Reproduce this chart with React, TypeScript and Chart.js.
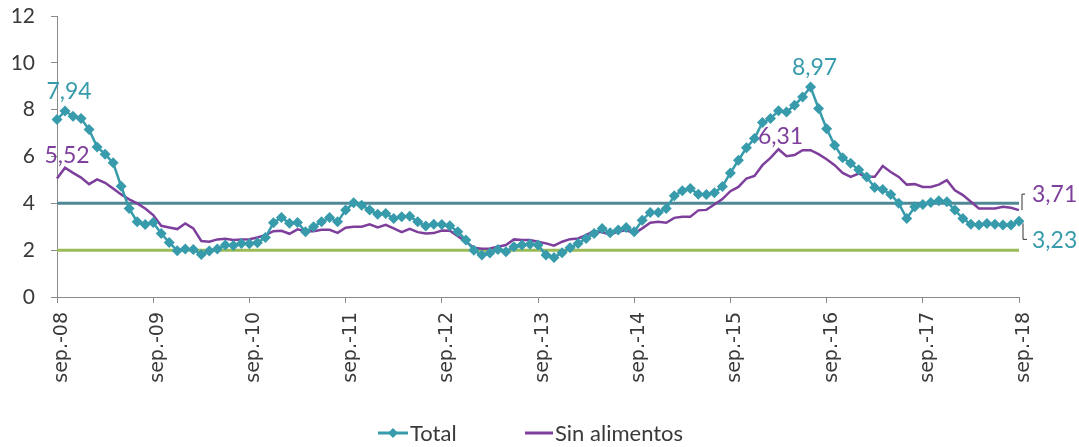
import React, { useEffect, useRef } from 'react';
import { Chart, registerables } from 'chart.js';

Chart.register(...registerables);

// ---- Data ----
const monthNames = ['sep.', 'oct.', 'nov.', 'dic.', 'ene.', 'feb.', 'mar.', 'abr.', 'may.', 'jun.', 'jul.', 'ago.'];
const startYear = 8;
const monthCount = 121; // sep-08 .. sep-18
const categories: string[] = [];
for (let i = 0; i < monthCount; i++) {
  const yr = startYear + Math.floor((i + 8) / 12);
  categories.push(`${monthNames[i % 12]}-${String(yr).padStart(2, '0')}`);
}

const yTicks = [0, 2, 4, 6, 8, 10, 12];

const totalValues = [
  7.58, 7.94, 7.72, 7.62, 7.15, 6.41, 6.10, 5.73, 4.73, 3.78, 3.21, 3.10,
  3.18, 2.71, 2.33, 1.98, 2.05, 2.03, 1.82, 1.96, 2.05, 2.22, 2.20, 2.29,
  2.27, 2.32, 2.54, 3.17, 3.40, 3.15, 3.18, 2.79, 3.00, 3.21, 3.40, 3.21,
  3.71, 4.02, 3.92, 3.71, 3.53, 3.57, 3.35, 3.43, 3.45, 3.21, 3.03, 3.11,
  3.10, 3.04, 2.79, 2.43, 2.00, 1.79, 1.88, 2.03, 1.93, 2.15, 2.22, 2.25,
  2.22, 1.79, 1.69, 1.89, 2.10, 2.29, 2.50, 2.71, 2.93, 2.74, 2.86, 2.97,
  2.79, 3.28, 3.61, 3.61, 3.78, 4.32, 4.54, 4.63, 4.39, 4.38, 4.45, 4.72,
  5.30, 5.84, 6.37, 6.77, 7.45, 7.62, 7.95, 7.90, 8.19, 8.54, 8.97, 8.05,
  7.19, 6.48, 5.95, 5.71, 5.43, 5.12, 4.68, 4.59, 4.38, 4.00, 3.35, 3.85,
  3.95, 4.04, 4.11, 4.07, 3.71, 3.35, 3.11, 3.07, 3.14, 3.11, 3.07, 3.07,
  3.23,
];

const sinAlimentosValues = [
  5.06, 5.52, 5.30, 5.10, 4.82, 5.02, 4.88, 4.63, 4.38, 4.17, 4.00, 3.78,
  3.50, 3.04, 2.97, 2.90, 3.14, 2.93, 2.39, 2.36, 2.46, 2.49, 2.43, 2.46,
  2.47, 2.54, 2.64, 2.81, 2.83, 2.70, 2.89, 2.81, 2.81, 2.87, 2.87, 2.74,
  2.96, 3.00, 3.00, 3.10, 2.97, 3.08, 2.93, 2.77, 2.91, 2.77, 2.71, 2.73,
  2.84, 2.83, 2.60, 2.36, 2.10, 2.06, 2.07, 2.15, 2.22, 2.46, 2.43, 2.43,
  2.36, 2.29, 2.19, 2.36, 2.47, 2.50, 2.64, 2.83, 2.76, 2.67, 2.79, 2.86,
  2.71, 2.93, 3.17, 3.21, 3.17, 3.38, 3.43, 3.43, 3.70, 3.72, 3.95, 4.18,
  4.52, 4.70, 5.06, 5.17, 5.63, 5.94, 6.31, 6.01, 6.06, 6.27, 6.27, 6.10,
  5.88, 5.63, 5.30, 5.13, 5.27, 5.13, 5.13, 5.59, 5.34, 5.13, 4.80, 4.82,
  4.70, 4.70, 4.80, 4.99, 4.56, 4.35, 4.07, 3.78, 3.78, 3.78, 3.85, 3.81,
  3.71,
];

const targetValues = [4, 2];
const totalLabelIdx = [1, 94];
const sinLabelIdx = [1, 90];

// ---- Styles ----
const TEAL = '#379bac';
const PURPLE = '#7e3f9c';
const TARGET_COLORS = ['#4f8794', '#9bbb59'];
const AXIS = '#8a8a8a';
const TEXT = '#3a3a3a';
const LABEL_FONT = '23px Lato, "Open Sans", sans-serif';

const fmt = (v: number) => v.toFixed(2).replace('.', ',');

const targetLinesPlugin = {
  id: 'targetLines',
  beforeDatasetsDraw(chart: any) {
    const { ctx, chartArea, scales } = chart;
    const meta = chart.getDatasetMeta(0);
    const xEnd = meta.data[meta.data.length - 1].x;
    targetValues.forEach((t, k) => {
      const y = scales.y.getPixelForValue(t);
      ctx.save();
      ctx.strokeStyle = TARGET_COLORS[k];
      ctx.lineWidth = 3;
      ctx.beginPath();
      ctx.moveTo(chartArea.left, y);
      ctx.lineTo(xEnd, y);
      ctx.stroke();
      ctx.restore();
    });
  },
};

const labelsPlugin = {
  id: 'valueLabels',
  afterDatasetsDraw(chart: any) {
    const { ctx } = chart;
    const mTotal = chart.getDatasetMeta(0);
    const mSin = chart.getDatasetMeta(1);
    ctx.save();
    ctx.font = LABEL_FONT;
    ctx.textAlign = 'center';
    ctx.textBaseline = 'alphabetic';
    ctx.fillStyle = TEAL;
    totalLabelIdx.forEach((i) => {
      const p = mTotal.data[i];
      ctx.fillText(fmt(totalValues[i]), p.x + 4, p.y - 12);
    });
    ctx.fillStyle = PURPLE;
    sinLabelIdx.forEach((i) => {
      const p = mSin.data[i];
      ctx.fillText(fmt(sinAlimentosValues[i]), p.x + 2, p.y - 5);
    });
    // end labels with brackets
    const last = totalValues.length - 1;
    const pS = mSin.data[last];
    const pT = mTotal.data[last];
    ctx.strokeStyle = '#333';
    ctx.lineWidth = 1;
    ctx.beginPath();
    ctx.moveTo(pS.x + 3, pS.y);
    ctx.lineTo(pS.x + 3, pS.y - 16);
    ctx.lineTo(pS.x + 6, pS.y - 16);
    ctx.moveTo(pT.x + 4, pT.y + 2);
    ctx.lineTo(pT.x + 4, pT.y + 18);
    ctx.lineTo(pT.x + 8, pT.y + 18);
    ctx.stroke();
    ctx.textAlign = 'left';
    ctx.fillStyle = PURPLE;
    ctx.fillText(fmt(sinAlimentosValues[last]), pS.x + 13, pS.y - 8);
    ctx.fillStyle = TEAL;
    ctx.fillText(fmt(totalValues[last]), pT.x + 13, pT.y + 27);
    ctx.restore();
  },
};

const legendPlugin = {
  id: 'customLegend',
  afterDraw(chart: any) {
    const { ctx } = chart;
    const y = 433;
    ctx.save();
    ctx.font = '22px Lato, "Open Sans", sans-serif';
    ctx.textBaseline = 'middle';
    ctx.textAlign = 'left';
    // Total
    ctx.strokeStyle = TEAL;
    ctx.lineWidth = 3;
    ctx.beginPath();
    ctx.moveTo(378, y);
    ctx.lineTo(408, y);
    ctx.stroke();
    ctx.fillStyle = TEAL;
    ctx.beginPath();
    ctx.moveTo(393, y - 5);
    ctx.lineTo(398, y);
    ctx.lineTo(393, y + 5);
    ctx.lineTo(388, y);
    ctx.closePath();
    ctx.fill();
    ctx.fillStyle = TEXT;
    ctx.fillText(chart.data.datasets[0].label, 410, y + 1);
    // Sin alimentos
    ctx.strokeStyle = PURPLE;
    ctx.beginPath();
    ctx.moveTo(525, y);
    ctx.lineTo(553, y);
    ctx.stroke();
    ctx.fillStyle = TEXT;
    ctx.fillText(chart.data.datasets[1].label, 555, y + 1);
    ctx.restore();
  },
};

export default function App() {
  const ref = useRef<HTMLCanvasElement | null>(null);
  useEffect(() => {
    document.body.style.margin = '0';
    const canvas = ref.current;
    if (!canvas) return;
    const chart = new Chart(canvas, {
      type: 'line',
      data: {
        labels: categories,
        datasets: [
          {
            label: 'Total',
            data: totalValues,
            borderColor: TEAL,
            backgroundColor: TEAL,
            borderWidth: 2.5,
            pointStyle: 'rectRot',
            pointRadius: 5.5,
            pointBackgroundColor: TEAL,
            pointBorderWidth: 0,
            tension: 0,
          },
          {
            label: 'Sin alimentos',
            data: sinAlimentosValues,
            borderColor: PURPLE,
            backgroundColor: PURPLE,
            borderWidth: 2.5,
            pointRadius: 0,
            tension: 0,
          },
        ],
      },
      options: {
        responsive: false,
        animation: false,
        devicePixelRatio: 1,
        layout: { padding: { left: 0, right: 60, top: 16, bottom: 40 } },
        plugins: {
          legend: { display: false },
          tooltip: { enabled: false },
        },
        scales: {
          x: {
            type: 'category',
            offset: false,
            afterBuildTicks: (axis: any) => {
              axis.ticks = axis.ticks.filter((t: any) => t.value % 12 === 0);
            },
            afterFit: (s: any) => {
              s.height = 110;
              s.paddingTop = 0;
              s.paddingBottom = 0;
              s.paddingLeft = 0;
              s.paddingRight = 0;
            },
            grid: {
              drawOnChartArea: false,
              drawTicks: true,
              tickLength: 6,
              color: AXIS,
            },
            border: { display: true, color: AXIS, width: 1 },
            ticks: {
              autoSkip: false,
              minRotation: 90,
              maxRotation: 90,
              padding: 9,
              labelOffset: 5,
              color: TEXT,
              font: { family: '"DejaVu Sans", sans-serif', size: 19 },
              callback: function (this: any, value: any) {
                return this.getLabelForValue(value);
              },
            },
          },
          y: {
            min: 0,
            max: 12,
            afterBuildTicks: (axis: any) => {
              axis.ticks = yTicks.map((v) => ({ value: v }));
            },
            afterFit: (s: any) => {
              s.width = 57;
              s.paddingTop = 0;
              s.paddingBottom = 0;
            },
            grid: {
              drawOnChartArea: false,
              drawTicks: true,
              tickLength: 6,
              color: AXIS,
            },
            border: { display: true, color: AXIS, width: 1 },
            ticks: {
              padding: 16,
              color: TEXT,
              font: { family: 'Lato, "Open Sans", sans-serif', size: 21 },
            },
          },
        },
      },
      plugins: [targetLinesPlugin, labelsPlugin, legendPlugin],
    });
    return () => chart.destroy();
  }, []);
  return (
    <div style={{ width: 1079, height: 447, background: '#fff' }}>
      <canvas ref={ref} width={1079} height={447} style={{ display: 'block' }} />
    </div>
  );
}
